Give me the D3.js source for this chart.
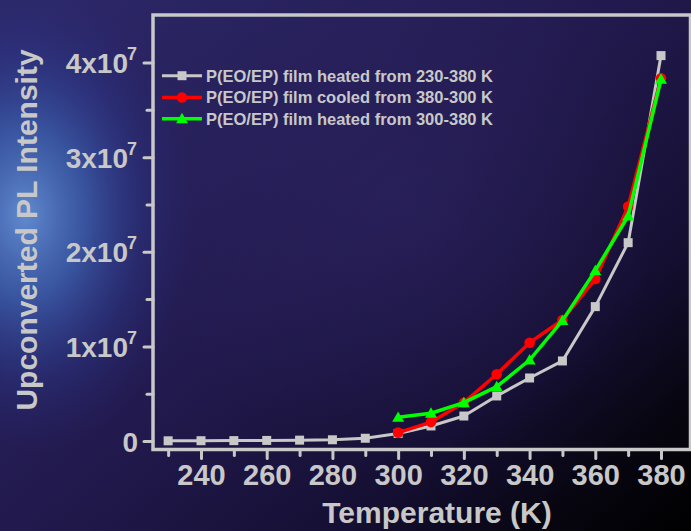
<!DOCTYPE html>
<html>
<head>
<meta charset="utf-8">
<script src="https://cdn.jsdelivr.net/npm/d3@7"></script>
<style>
  html, body { margin: 0; padding: 0; background: #1b1540; }
  svg { display: block; }
  text { font-family: "Liberation Sans", Arial, sans-serif; font-weight: bold; fill: #c8c8c8; }
</style>
</head>
<body>
<svg id="chart" width="691" height="531"></svg>
<script>
// Temperatures (K)
const tempsHeatFull = [230, 240, 250, 260, 270, 280, 290, 300, 310, 320, 330, 340, 350, 360, 370, 380];
const tempsCycle = [300, 310, 320, 330, 340, 350, 360, 370, 380];

// Upconverted PL intensity (counts)
const heatedFull = [0.002e7, 0.003e7, 0.004e7, 0.006e7, 0.009e7, 0.013e7, 0.029e7, 0.08e7, 0.159e7, 0.264e7, 0.476e7, 0.666e7, 0.846e7, 1.42e7, 2.096e7, 4.073e7];
const cooled = [0.088e7, 0.2e7, 0.405e7, 0.705e7, 1.039e7, 1.279e7, 1.712e7, 2.477e7, 3.834e7];
const reheated = [0.25e7, 0.293e7, 0.405e7, 0.574e7, 0.856e7, 1.272e7, 1.8e7, 2.378e7, 3.823e7];

const seriesNames = [
  "P(EO/EP) film heated from 230-380 K",
  "P(EO/EP) film cooled from 380-300 K",
  "P(EO/EP) film heated from 300-380 K"
];

const xMajorTicks = [240, 260, 280, 300, 320, 340, 360, 380];
const xMinorTicks = [230, 250, 270, 290, 310, 330, 350, 370];
const yMajorTicks = [0, 1e7, 2e7, 3e7, 4e7];
const yMinorTicks = [0.5e7, 1.5e7, 2.5e7, 3.5e7];

const W = 691, H = 531;
const frame = { left: 153, top: 15, right: 690.5, bottom: 449.5 };
const axisColor = "#c8c8c8";

const svg = d3.select("#chart");
const defs = svg.append("defs");

// Background: dark navy-to-black diagonal with a blue glow on the left
const bg = defs.append("linearGradient").attr("id", "bgGrad")
  .attr("x1", 0).attr("y1", 0.1).attr("x2", 1).attr("y2", 1);
[[0, "#2c2768"], [0.45, "#221a4e"], [0.72, "#150f33"], [0.88, "#07050f"], [1, "#000000"]]
  .forEach(([o, c]) => bg.append("stop").attr("offset", o).attr("stop-color", c));

const glow = defs.append("radialGradient").attr("id", "glow")
  .attr("gradientUnits", "userSpaceOnUse")
  .attr("cx", 25).attr("cy", 215).attr("r", 200)
  .attr("gradientTransform", "translate(25,215) scale(0.85,1.2) translate(-25,-215)");
[[0, "#618ace", 1], [0.35, "#3f66b6", 0.75], [0.7, "#2e3f98", 0.32], [1, "#2a2a80", 0]]
  .forEach(([o, c, a]) => glow.append("stop").attr("offset", o).attr("stop-color", c).attr("stop-opacity", a));

const haze = defs.append("radialGradient").attr("id", "haze")
  .attr("gradientUnits", "userSpaceOnUse")
  .attr("cx", 400).attr("cy", 200).attr("r", 260);
[[0, "#2c2360", 0.6], [1, "#2c2360", 0]]
  .forEach(([o, c, a]) => haze.append("stop").attr("offset", o).attr("stop-color", c).attr("stop-opacity", a));

svg.append("rect").attr("width", W).attr("height", H).attr("fill", "url(#bgGrad)");
svg.append("rect").attr("width", W).attr("height", H).attr("fill", "url(#haze)");
svg.append("rect").attr("width", W).attr("height", H).attr("fill", "url(#glow)");

// Scales
const x = d3.scaleLinear().domain([240, 380]).range([201, 661]);
const y = d3.scaleLinear().domain([0, 4e7]).range([441, 62.5]);

// Minor ticks (unlabeled)
const xMinor = d3.axisBottom(x).tickValues(xMinorTicks).tickSize(6).tickSizeOuter(0).tickFormat("");
const yMinor = d3.axisLeft(y).tickValues(yMinorTicks).tickSize(6).tickSizeOuter(0).tickFormat("");
// Major ticks
const xMajor = d3.axisBottom(x).tickValues(xMajorTicks).tickSize(9).tickSizeOuter(0).tickPadding(6)
  .tickFormat(d => d);
const yMajor = d3.axisLeft(y).tickValues(yMajorTicks).tickSize(9).tickSizeOuter(0).tickPadding(5)
  .tickFormat(d => d === 0 ? "0" : (d / 1e7) + "x10");

function styleAxis(g) {
  g.select(".domain").remove();
  g.selectAll(".tick line").attr("stroke", axisColor).attr("stroke-width", 3).attr("stroke-linecap", "round");
}

svg.append("g").attr("transform", `translate(0,${frame.bottom})`).call(xMinor).call(styleAxis);
svg.append("g").attr("transform", `translate(${frame.left},0)`).call(yMinor).call(styleAxis);

const gx = svg.append("g").attr("transform", `translate(0,${frame.bottom})`).call(xMajor).call(styleAxis);
gx.selectAll(".tick text")
  .attr("font-size", 29).attr("font-family", "Liberation Sans, Arial, sans-serif")
  .attr("font-weight", "bold").attr("fill", axisColor).attr("dy", "0.71em").attr("y", 15);

const gy = svg.append("g").attr("transform", `translate(${frame.left},0)`).call(yMajor).call(styleAxis);
gy.selectAll(".tick text")
  .attr("font-size", 28).attr("font-family", "Liberation Sans, Arial, sans-serif")
  .attr("font-weight", "bold").attr("fill", axisColor).attr("x", -16).attr("dy", "0.36em")
  .each(function(d) {
    if (d !== 0) {
      d3.select(this).append("tspan").text("7")
        .attr("font-size", 18).attr("dy", "-0.72em").attr("dx", "-1");
    } else {
      d3.select(this).attr("x", -15);
    }
  });

// Frame box
svg.append("rect")
  .attr("x", frame.left).attr("y", frame.top)
  .attr("width", frame.right - frame.left).attr("height", frame.bottom - frame.top)
  .attr("fill", "none").attr("stroke", axisColor).attr("stroke-width", 3.5);

// Axis titles
svg.append("text")
  .attr("x", 437).attr("y", 523).attr("text-anchor", "middle")
  .attr("font-size", 30).text("Temperature (K)");
svg.append("text")
  .attr("transform", "translate(37,230) rotate(-90)").attr("text-anchor", "middle")
  .attr("font-size", 30).text("Upconverted PL Intensity");

// Series
const line = d3.line().x(d => x(d[0])).y(d => y(d[1]));
const triangle = d3.symbol().type(d3.symbolTriangle).size(62);

const series = [
  { name: seriesNames[0], t: tempsHeatFull, v: heatedFull, color: "#c8c8c8", width: 3, marker: "square" },
  { name: seriesNames[1], t: tempsCycle, v: cooled, color: "#ff0000", width: 3.5, marker: "circle" },
  { name: seriesNames[2], t: tempsCycle, v: reheated, color: "#00ff00", width: 3.5, marker: "triangle" }
];

function drawMarker(g, kind, color, cx, cy) {
  if (kind === "square") {
    g.append("rect").attr("x", cx - 4.5).attr("y", cy - 4.5).attr("width", 9).attr("height", 9)
      .attr("fill", color);
  } else if (kind === "circle") {
    g.append("circle").attr("cx", cx).attr("cy", cy).attr("r", 5.3).attr("fill", color);
  } else {
    g.append("path").attr("d", triangle()).attr("transform", `translate(${cx},${cy + 1})`)
      .attr("fill", color);
  }
}

series.forEach(s => {
  const pts = s.t.map((t, i) => [t, s.v[i]]);
  const g = svg.append("g");
  g.append("path").attr("d", line(pts)).attr("fill", "none")
    .attr("stroke", s.color).attr("stroke-width", s.width).attr("stroke-linejoin", "round");
  pts.forEach(p => drawMarker(g, s.marker, s.color, x(p[0]), y(p[1])));
});

// Legend
const legend = svg.append("g");
const legendY = [75.7, 97.5, 118.7];
series.forEach((s, i) => {
  const ly = legendY[i];
  legend.append("line").attr("x1", 162).attr("x2", 202).attr("y1", ly).attr("y2", ly)
    .attr("stroke", s.color).attr("stroke-width", s.width);
  drawMarker(legend, s.marker, s.color, 182, ly);
  legend.append("text").attr("x", 206).attr("y", ly).attr("dy", "0.36em")
    .attr("font-size", 16.5).text(s.name);
});
</script>
</body>
</html>
